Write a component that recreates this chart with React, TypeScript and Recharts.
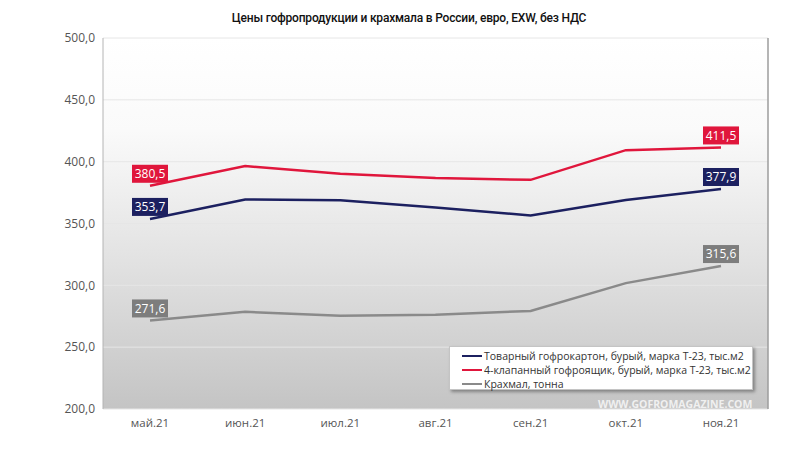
import React from 'react';
import {
  LineChart,
  Line,
  XAxis,
  YAxis,
  CartesianGrid,
  Legend,
  LabelList,
} from 'recharts';

const months = ['май.21', 'июн.21', 'июл.21', 'авг.21', 'сен.21', 'окт.21', 'ноя.21'];
const board = [353.7, 369.4, 368.8, 363.0, 356.5, 369.0, 377.9];
const boxes = [380.5, 396.5, 390.2, 386.7, 385.3, 409.3, 411.5];
const starch = [271.6, 278.6, 275.4, 276.2, 279.3, 301.8, 315.6];
const yTicks = [200, 250, 300, 350, 400, 450, 500];

const seriesInfo = [
  { key: 'board', name: 'Товарный гофрокартон, бурый, марка Т-23, тыс.м2', color: '#1c2060', tag: '#1c2060', axis: 'left' },
  { key: 'boxes', name: '4-клапанный гофроящик, бурый, марка Т-23, тыс.м2', color: '#e0163c', tag: '#e0163c', axis: 'left' },
  { key: 'starch', name: 'Крахмал, тонна', color: '#8a8a8a', tag: '#7d7d7d', axis: 'right' },
];

const data = months.map((m, i) => ({
  month: m,
  board: board[i],
  boxes: boxes[i],
  starch: starch[i],
}));

const fmt = (v: number) => v.toFixed(1).replace('.', ',');

const makeLabel = (color: string) => (props: any) => {
  const { x, y, value, index } = props;
  if (index !== 0 && index !== months.length - 1) return null;
  const w = 36;
  const h = 18;
  return (
    <g>
      <rect x={x - w / 2} y={y - h - 3} width={w} height={h} fill={color} />
      <text
        x={x}
        y={y - 3 - h / 2}
        dy="0.35em"
        textAnchor="middle"
        fill="#ffffff"
        fontSize={12}
        fontFamily="Open Sans"
      >
        {fmt(value)}
      </text>
    </g>
  );
};

const renderLegend = () => (
  <div
    style={{
      width: 304,
      height: 44,
      background: '#ffffff',
      border: '1px solid #c4c4c4',
      boxShadow: '2px 2px 3px rgba(0,0,0,0.35)',
      fontFamily: 'Open Sans',
      fontSize: 10.5,
      color: '#333',
      padding: '2px 0 0 12px',
      boxSizing: 'border-box',
    }}
  >
    {seriesInfo.map((s) => (
      <div key={s.key} style={{ display: 'flex', alignItems: 'center', height: 14 }}>
        <span style={{ display: 'inline-block', width: 20, height: 2.5, background: s.color, marginRight: 2 }} />
        <span>{s.name}</span>
      </div>
    ))}
  </div>
);

export default function App() {
  return (
    <div style={{ position: 'absolute', left: 0, top: 0, width: 805, height: 455, background: '#fff' }}>
      <div
        style={{
          position: 'absolute',
          left: 0,
          top: 11,
          width: 818,
          textAlign: 'center',
          fontFamily: 'Roboto',
          fontWeight: 500,
          fontSize: 12,
          letterSpacing: -0.2,
          color: '#111',
        }}
      >
        Цены гофропродукции и крахмала в России, евро, EXW, без НДС
      </div>
      <LineChart width={805} height={455} data={data} margin={{ top: 38, right: 34, bottom: 0, left: 0 }}>
        <defs>
          <linearGradient id="plotBg" x1="0" y1="0" x2="0" y2="1">
            <stop offset="0" stopColor="#ffffff" />
            <stop offset="0.25" stopColor="#fafafa" />
            <stop offset="0.6" stopColor="#e2e2e2" />
            <stop offset="1" stopColor="#c4c4c4" />
          </linearGradient>
        </defs>
        <CartesianGrid yAxisId="left" vertical={false} stroke="#e6e6e6" fill="url(#plotBg)" fillOpacity={1} />
        <XAxis
          dataKey="month"
          axisLine={false}
          tickLine={false}
          height={46}
          tickMargin={4}
          padding={{ left: 47, right: 47 }}
          tick={{ fill: '#555', fontSize: 11.5, fontFamily: 'Open Sans' }}
        />
        <XAxis
          xAxisId="top"
          dataKey="month"
          orientation="top"
          height={0}
          tick={false}
          tickLine={false}
          axisLine={{ stroke: '#b4b4b4' }}
        />
        <YAxis
          yAxisId="left"
          domain={[200, 500]}
          ticks={yTicks}
          width={103}
          axisLine={{ stroke: '#b4b4b4' }}
          tickLine={false}
          tickFormatter={fmt}
          tick={{ fill: '#555', fontSize: 12, fontFamily: 'Open Sans' }}
        />
        <YAxis
          yAxisId="right"
          orientation="right"
          domain={[200, 500]}
          ticks={yTicks}
          width={3}
          tick={false}
          tickLine={false}
          axisLine={{ stroke: '#9c9c9c', strokeWidth: 1.5 }}
        />
        <Legend
          layout="vertical"
          align="center"
          verticalAlign="middle"
          content={renderLegend}
          wrapperStyle={{ left: 449, top: 346, width: 304 }}
        />
        {seriesInfo.map((s) => (
          <Line
            key={s.key}
            yAxisId={s.axis}
            type="linear"
            dataKey={s.key}
            name={s.name}
            stroke={s.color}
            strokeWidth={2.5}
            dot={false}
            isAnimationActive={false}
          >
            <LabelList dataKey={s.key} content={makeLabel(s.tag)} />
          </Line>
        ))}
      </LineChart>
      <div
        style={{
          position: 'absolute',
          left: 598,
          top: 397,
          fontFamily: 'Open Sans',
          fontWeight: 'bold',
          fontSize: 10.5,
          color: 'rgba(255,255,255,0.75)',
        }}
      >
        WWW.GOFROMAGAZINE.COM
      </div>
    </div>
  );
}
